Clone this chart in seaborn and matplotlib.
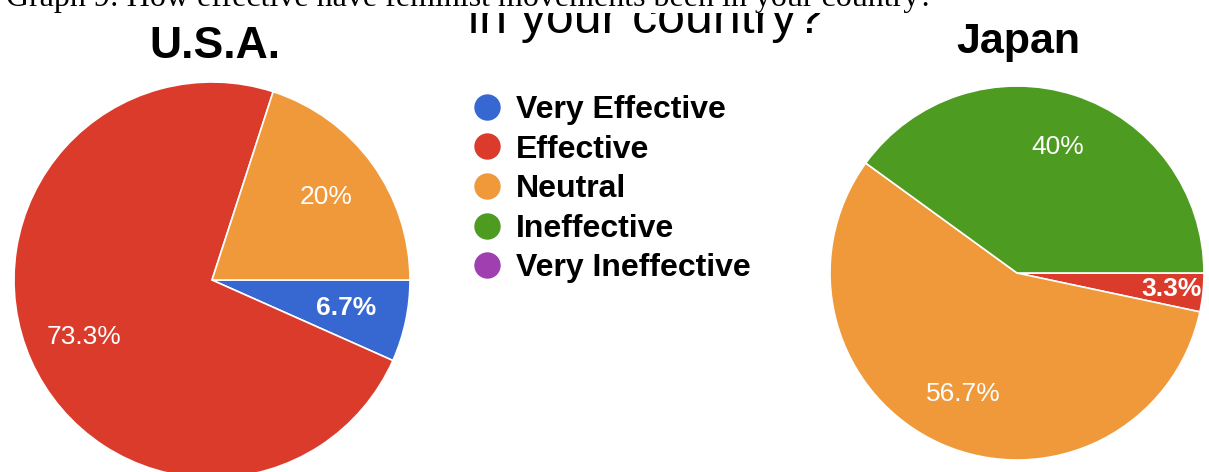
import matplotlib
matplotlib.use('Agg')
import matplotlib.pyplot as plt
import seaborn as sns
from matplotlib.lines import Line2D
from matplotlib.transforms import Bbox, TransformedBbox
import numpy as np

# categories and response counts
categories = ['Very Effective', 'Effective', 'Neutral', 'Ineffective', 'Very Ineffective']
usa_labels = ['Very Effective', 'Effective', 'Neutral']
usa_counts = [1, 11, 3]
japan_labels = ['Effective', 'Neutral', 'Ineffective']
japan_counts = [1, 17, 12]

caption = 'Graph 9: How effective have feminist movements been in your country?'
subtitle = 'in your country?'

sns.set_theme(style='white')
plt.rcParams['font.family'] = ['Liberation Sans', 'DejaVu Sans']
plt.rcParams['text.color'] = 'black'

colors = dict(zip(categories, ['#3767d0', '#da3b2b', '#f0993a', '#4e9b21', '#9f3fb0']))

W, H = 1209, 472
fig = plt.figure(figsize=(W / 100, H / 100), dpi=100)
fig.patch.set_facecolor('white')


def px_axes(cx, cy, r):
    # axes box around a pie centre given in pixels from the top-left
    return fig.add_axes([(cx - r) / W, (H - cy - r) / H, 2 * r / W, 2 * r / H])


def fmt(p):
    return f'{p:.1f}%'.replace('.0%', '%')


def draw_pie(ax, labels, counts, small_dist):
    wedges, texts, autotexts = ax.pie(
        counts, colors=[colors[l] for l in labels], startangle=0, counterclock=False,
        autopct=fmt, pctdistance=0.71, radius=1,
        wedgeprops=dict(edgecolor='white', linewidth=1.2),
        textprops=dict(color='white', fontsize=19))
    ax.set_xlim(-1, 1)
    ax.set_ylim(-1, 1)
    total = sum(counts)
    for w, t, c in zip(wedges, autotexts, counts):
        if c / total < 0.1:
            t.set_fontweight('bold')
            ang = np.deg2rad((w.theta1 + w.theta2) / 2)
            t.set_position((small_dist * np.cos(ang), small_dist * np.sin(ang)))
    return ax


ax1 = px_axes(212, 280, 198)
draw_pie(ax1, usa_labels, usa_counts, 0.69)
ax2 = px_axes(1017, 273, 187)
draw_pie(ax2, japan_labels, japan_counts, 0.83)

# titles
fig.text(215 / W, 1 - 58 / H, 'U.S.A.', ha='center', va='baseline', fontsize=32, fontweight='bold')
fig.text(1018 / W, 1 - 53 / H, 'Japan', ha='center', va='baseline', fontsize=31, fontweight='bold')

# cut-off heading text at the top
fig.text(6 / W, 1 - 6 / H, caption, ha='left', va='baseline', fontsize=23,
         family=['Liberation Serif', 'DejaVu Serif'])
sub = fig.text(468 / W, 1 - 33 / H, subtitle, ha='left', va='baseline', fontsize=36)
sub.set_clip_box(TransformedBbox(Bbox([[0, 0], [1, 1 - 13 / H]]), fig.transFigure))
sub.set_clip_on(True)

# legend
handles = [Line2D([], [], marker='o', linestyle='none', markersize=18,
                  markerfacecolor=colors[c], markeredgecolor=colors[c]) for c in categories]
leg = fig.legend(handles, categories, loc='upper left', bbox_to_anchor=(468 / W, 1 - 95 / H),
                 frameon=False, borderpad=0, borderaxespad=0, handletextpad=0.3,
                 labelspacing=0.3, handlelength=1.2,
                 prop=dict(size=23, weight='bold'))

fig.savefig('out.png', dpi=100, facecolor='white')
